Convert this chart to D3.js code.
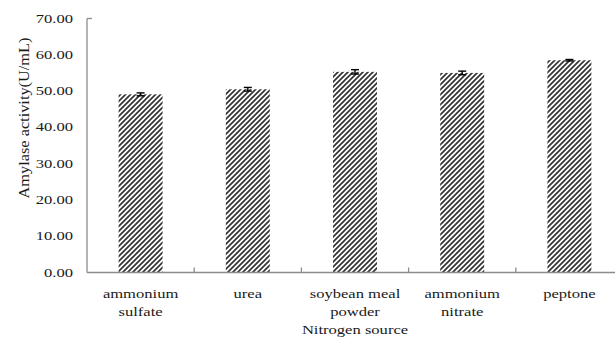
<!DOCTYPE html>
<html>
<head>
<meta charset="utf-8">
<script src="https://cdn.jsdelivr.net/npm/d3@7"></script>
<style>
  body { margin: 0; background: #fff; }
  svg { display: block; }
  svg text { font-family: "Liberation Serif", "Times New Roman", serif; fill: #1a1a1a; }
</style>
</head>
<body>
<svg id="chart" width="615" height="343"></svg>
<script>
// Amylase activity by nitrogen source -- bar chart with error bars

var categories = [["ammonium", "sulfate"], ["urea"], ["soybean meal", "powder"], ["ammonium", "nitrate"], ["peptone"]];
var activity = [49.1, 50.5, 55.3, 55.0, 58.5];
var errors = [0.4, 0.5, 0.6, 0.5, 0.2];
var yTicks = [0, 10, 20, 30, 40, 50, 60, 70];

var width = 615, height = 343;
var plotLeft = 87, plotRight = 623, plotTop = 18.5, plotBottom = 272.5;
var stretch = 1.38; // text in the picture is wider than it is tall

var svg = d3.select("#chart");

var x = d3.scaleBand()
  .domain(d3.range(categories.length))
  .range([plotLeft, plotRight])
  .paddingInner(0.59)
  .paddingOuter(0.295);

var y = d3.scaleLinear().domain([0, 70]).range([plotBottom, plotTop]);

// hatch fill for the bars
var pattern = svg.append("defs").append("pattern")
  .attr("id", "hatch")
  .attr("patternUnits", "userSpaceOnUse")
  .attr("width", 5).attr("height", 5);
pattern.append("rect").attr("width", 5).attr("height", 5).attr("fill", "#fff");
pattern.append("path")
  .attr("d", "M-1,1 L1,-1 M0,5 L5,0 M4,6 L6,4")
  .attr("stroke", "#333")
  .attr("stroke-width", 1.7);

// stretched text helper
var label = function (g, tx, ty, str, size, anchor) {
  return g.append("text")
    .attr("transform", "translate(" + tx + "," + ty + ") scale(" + stretch + ",1)")
    .attr("text-anchor", anchor)
    .style("font-size", size + "px")
    .text(str);
};

// y axis tick labels
var yg = svg.append("g");
yTicks.forEach(function (t) {
  label(yg, 73, y(t) + 4, t.toFixed(2), 12, "end");
});

// bars
svg.append("g").selectAll("rect")
  .data(activity)
  .join("rect")
  .attr("x", function (d, i) { return x(i); })
  .attr("y", function (d) { return y(d); })
  .attr("width", x.bandwidth())
  .attr("height", function (d) { return y(0) - y(d); })
  .attr("fill", "url(#hatch)");

// error bars
var eg = svg.append("g").attr("stroke", "#000").attr("stroke-width", 1.4);
activity.forEach(function (d, i) {
  var cx = x(i) + x.bandwidth() / 2;
  var lo = y(d - errors[i]), hi = y(d + errors[i]);
  eg.append("line").attr("x1", cx).attr("x2", cx).attr("y1", lo).attr("y2", hi);
  eg.append("line").attr("x1", cx - 4).attr("x2", cx + 4).attr("y1", lo).attr("y2", lo);
  eg.append("line").attr("x1", cx - 4).attr("x2", cx + 4).attr("y1", hi).attr("y2", hi);
});

// axes
var ag = svg.append("g").attr("stroke", "#8c8c8c").attr("stroke-width", 1.3).attr("fill", "none");
ag.append("line").attr("x1", plotLeft).attr("x2", plotLeft).attr("y1", y(70)).attr("y2", y(0));
ag.append("line").attr("x1", plotLeft).attr("x2", plotLeft + 5).attr("y1", y(70)).attr("y2", y(70));
ag.append("line").attr("x1", plotLeft).attr("x2", width).attr("y1", y(0)).attr("y2", y(0));
d3.range(1, categories.length + 1).forEach(function (k) {
  var bx = plotLeft + k * x.step();
  ag.append("line").attr("x1", bx).attr("x2", bx).attr("y1", y(0)).attr("y2", y(0) - 5);
});

// category labels
var xg = svg.append("g");
categories.forEach(function (lines, i) {
  var cx = x(i) + x.bandwidth() / 2;
  lines.forEach(function (s, j) {
    label(xg, cx, 298 + j * 18, s, 12, "middle");
  });
});

// axis titles
label(svg, (plotLeft + plotRight) / 2, 334, "Nitrogen source", 12, "middle");

svg.append("text")
  .attr("transform", "translate(29,118) rotate(-90)")
  .attr("text-anchor", "middle")
  .attr("textLength", 161)
  .attr("lengthAdjust", "spacingAndGlyphs")
  .style("font-size", "14px")
  .text("Amylase activity(U/mL)");
</script>
</body>
</html>
